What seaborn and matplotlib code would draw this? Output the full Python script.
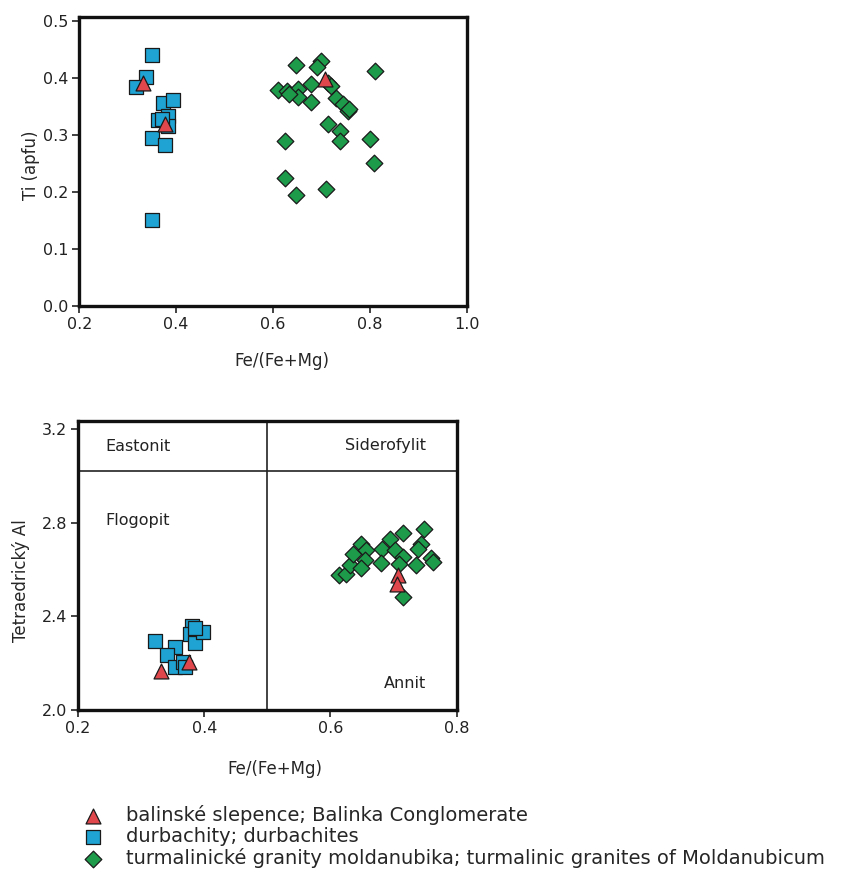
import numpy as np
import pandas as pd
import matplotlib
matplotlib.use('Agg')
import matplotlib.pyplot as plt
import seaborn as sns

sns.set_theme(style='ticks')
plt.rcParams['font.family'] = ['DejaVu Sans']

# groups
groups = ['balinské slepence; Balinka Conglomerate',
          'durbachity; durbachites',
          'turmalinické granity moldanubika; turmalinic granites of Moldanubicum']

# Ti vs Fe/(Fe+Mg)
bal_fe_top = [0.332, 0.376, 0.707]
bal_ti_top = [0.390, 0.319, 0.398]

durb_fe_top = [0.350, 0.338, 0.318, 0.373, 0.394, 0.383, 0.363, 0.383, 0.350, 0.376, 0.350, 0.370]
durb_ti_top = [0.440, 0.401, 0.384, 0.355, 0.361, 0.333, 0.325, 0.316, 0.295, 0.282, 0.150, 0.328]

turm_fe_top = [0.647, 0.700, 0.690, 0.811, 0.678, 0.713, 0.720, 0.611, 0.628, 0.651, 0.651, 0.633,
               0.678, 0.731, 0.744, 0.754, 0.756, 0.713, 0.739, 0.738, 0.625, 0.800, 0.809,
               0.625, 0.647, 0.710]
turm_ti_top = [0.422, 0.430, 0.419, 0.412, 0.389, 0.390, 0.386, 0.378, 0.377, 0.381, 0.367, 0.372,
               0.358, 0.365, 0.353, 0.341, 0.345, 0.319, 0.306, 0.289, 0.289, 0.292, 0.250,
               0.224, 0.194, 0.205]

# tetrahedral Al vs Fe/(Fe+Mg)
bal_fe_bot = [0.332, 0.376, 0.707, 0.706]
bal_al_bot = [2.168, 2.203, 2.576, 2.540]

durb_fe_bot = [0.322, 0.354, 0.341, 0.353, 0.367, 0.369, 0.381, 0.377, 0.386, 0.398, 0.385]
durb_al_bot = [2.295, 2.269, 2.234, 2.182, 2.203, 2.185, 2.358, 2.326, 2.288, 2.333, 2.350]

turm_fe_bot = [0.614, 0.624, 0.631, 0.636, 0.649, 0.656, 0.655, 0.648, 0.681, 0.680, 0.694,
               0.703, 0.715, 0.715, 0.708, 0.715, 0.748, 0.743, 0.739, 0.736, 0.760, 0.762]
turm_al_bot = [2.576, 2.580, 2.618, 2.667, 2.709, 2.681, 2.639, 2.606, 2.688, 2.629, 2.730,
               2.681, 2.754, 2.653, 2.624, 2.481, 2.772, 2.709, 2.688, 2.618, 2.648, 2.630]

field_names = ['Eastonit', 'Siderofylit', 'Flogopit', 'Annit']

colors = {groups[0]: '#e0474c', groups[1]: '#1ea3d2', groups[2]: '#1e9a4b'}
markers = {groups[0]: '^', groups[1]: 's', groups[2]: 'D'}
sizes = {groups[0]: 115, groups[1]: 100, groups[2]: 72}


def make_df(fe, val):
    parts = []
    for g, x, y in zip(groups, fe, val):
        parts.append(pd.DataFrame({'fe': x, 'val': y, 'group': g}))
    return pd.concat(parts, ignore_index=True)


df_top = make_df([bal_fe_top, durb_fe_top, turm_fe_top], [bal_ti_top, durb_ti_top, turm_ti_top])
df_bot = make_df([bal_fe_bot, durb_fe_bot, turm_fe_bot], [bal_al_bot, durb_al_bot, turm_al_bot])

fig = plt.figure(figsize=(8.51, 8.77), dpi=100)
W, H = 851, 877
ax1 = fig.add_axes([79.3 / W, 1 - 305.7 / H, (466.7 - 79.3) / W, (305.7 - 16.7) / H])
ax2 = fig.add_axes([78 / W, 1 - 710 / H, (456.7 - 78) / W, (710 - 420.7) / H])

# draw order: diamonds, squares, triangles on top
for ax, df in [(ax1, df_top), (ax2, df_bot)]:
    for g in [groups[2], groups[1], groups[0]]:
        sub = df[df['group'] == g]
        sns.scatterplot(data=sub, x='fe', y='val', ax=ax, color=colors[g], marker=markers[g],
                        s=sizes[g], edgecolor='#1a1a1a', linewidth=0.9, label=g, zorder=3)

handles, labels = ax1.get_legend_handles_labels()
handles, labels = handles[::-1], labels[::-1]
ax1.get_legend().remove()
ax2.get_legend().remove()

# top panel
ax1.set_xlim(0.2, 1.0)
ax1.set_ylim(0.0, 0.507)
ax1.set_xticks([0.2, 0.4, 0.6, 0.8, 1.0])
ax1.set_yticks([0.0, 0.1, 0.2, 0.3, 0.4, 0.5])
ax1.set_xlabel('Fe/(Fe+Mg)', fontsize=12)
ax1.set_ylabel('Ti (apfu)', fontsize=12)
ax1.xaxis.set_label_coords(0.523, -0.16)
ax1.yaxis.set_label_coords(-0.101, 0.487)

# bottom panel
ax2.set_xlim(0.2, 0.795)
ax2.set_ylim(2.0, 3.235)
ax2.set_xticks([0.2, 0.4, 0.6, 0.8])
ax2.set_yticks([2.0, 2.4, 2.8, 3.2])
ax2.set_xlabel('Fe/(Fe+Mg)', fontsize=12)
ax2.set_ylabel('Tetraedrický Al', fontsize=12)
ax2.xaxis.set_label_coords(0.52, -0.173)
ax2.yaxis.set_label_coords(-0.127, 0.446)
ax2.axvline(0.5, color='#222222', lw=1.2, zorder=1)
ax2.axhline(3.02, color='#222222', lw=1.2, zorder=1)
ax2.text(0.243, 3.124, field_names[0], fontsize=11.5, ha='left', va='center', color='#222222')
ax2.text(0.752, 3.128, field_names[1], fontsize=11.5, ha='right', va='center', color='#222222')
ax2.text(0.243, 2.808, field_names[2], fontsize=11.5, ha='left', va='center', color='#222222')
ax2.text(0.752, 2.114, field_names[3], fontsize=11.5, ha='right', va='center', color='#222222')

for ax in (ax1, ax2):
    for sp in ax.spines.values():
        sp.set_linewidth(2.4)
        sp.set_color('#111111')
    ax.tick_params(axis='both', direction='out', length=5, width=1.2, labelsize=11.5,
                   colors='#222222', pad=3)
    ax.grid(False)

fig.legend(handles, labels, loc='upper left', bbox_to_anchor=(83 / W, 1 - 805 / H),
           frameon=False, fontsize=14, handletextpad=1.2, labelspacing=0.1,
           borderaxespad=0, borderpad=0, handlelength=1.0, markerscale=1.0)

fig.savefig('out.png', dpi=100)
